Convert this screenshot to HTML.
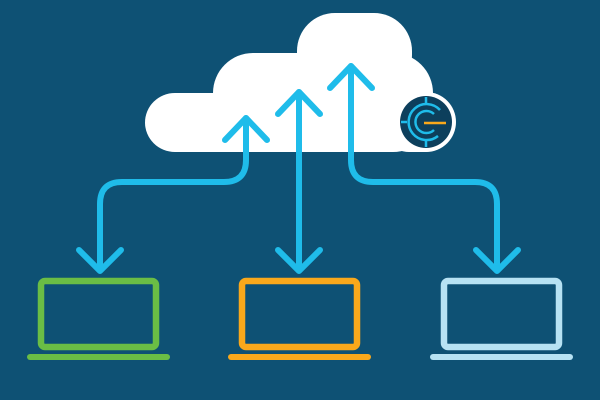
<!DOCTYPE html>
<html><head><style>html,body{margin:0;padding:0;background:#0e5174}svg{display:block}</style></head>
<body>
<svg width="600" height="400" viewBox="0 0 600 400">
<rect width="600" height="400" fill="#0e5174"/>
<g fill="#fff">
<rect x="297" y="13" width="115" height="80" rx="38"/>
<rect x="213" y="53" width="220" height="99" rx="40"/>
<rect x="145" y="93" width="200" height="59" rx="30"/>
<rect x="380" y="93" width="73" height="59" rx="29"/>
</g>
<g fill="none" stroke="#1fbcea" stroke-width="6" stroke-linecap="round" stroke-linejoin="round">
<path d="M246 118 V160 Q246 182 224 182 H122 Q100 182 100 204 V270"/>
<path d="M225 140 L246 118 L267 140"/>
<path d="M79 250 L100 271 L121 250"/>
<path d="M299 92 V270"/>
<path d="M278 114 L299 92 L320 114"/>
<path d="M278 250 L299 271 L320 250"/>
<path d="M351 66 V160 Q351 182 373 182 H475 Q497 182 497 204 V270"/>
<path d="M330 88 L351 66 L372 88"/>
<path d="M476 250 L497 271 L518 250"/>
</g>
<circle cx="426" cy="122" r="30" fill="#fff"/>
<circle cx="426" cy="122" r="26" fill="#0d3f5c"/>
<g fill="none" stroke="#1fbcea" stroke-width="2.5">
<path d="M440 110 A18 18 0 1 0 438 136"/>
<path d="M434 114 A11 11 0 1 0 434 130"/>
<line x1="426" y1="97" x2="426" y2="103"/><line x1="426" y1="141" x2="426" y2="147"/><line x1="401" y1="122" x2="407" y2="122"/>
</g>
<line x1="424" y1="123" x2="446" y2="123" stroke="#f9a81b" stroke-width="2.5"/>
<g fill="none" stroke-width="6.5" stroke-linejoin="round">
<rect x="41" y="281" width="115" height="66" rx="4" stroke="#6abd45"/>
<rect x="242" y="281" width="115" height="66" rx="4" stroke="#f9a81b"/>
<rect x="444" y="281" width="115" height="66" rx="4" stroke="#b7e2f3"/>
</g>
<g stroke-width="6" stroke-linecap="round">
<line x1="30" y1="357" x2="167" y2="357" stroke="#6abd45"/>
<line x1="231" y1="357" x2="368" y2="357" stroke="#f9a81b"/>
<line x1="433" y1="357" x2="570" y2="357" stroke="#b7e2f3"/>
</g>
</svg>
</body></html>
